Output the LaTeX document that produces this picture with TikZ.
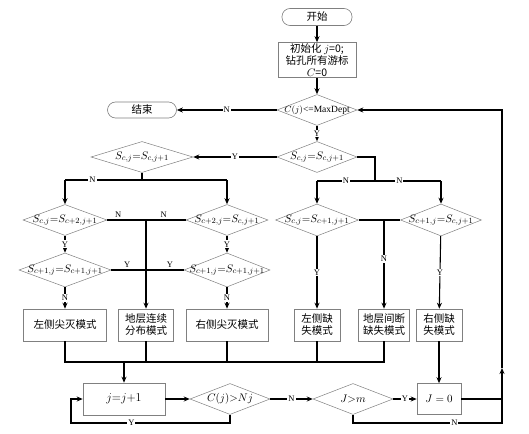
\documentclass[tikz,border=0pt]{standalone}
\usepackage{fontspec}
\setmainfont{Liberation Serif}
\newfontfamily\cjk{Noto Sans CJK SC}
\usepackage{tikz}
\usetikzlibrary{shapes.geometric, arrows.meta}
\newcommand{\cjkfont}{\cjk\fontsize{10.5}{12}\selectfont}
\newcommand{\dtext}[1]{\makebox[0pt]{#1}}
\tikzstyle{term} = [rectangle, rounded corners=8pt, draw=gray, line width=0.6pt, fill=white, minimum width=70pt, minimum height=17pt, inner sep=1pt, font=\cjkfont]
\tikzstyle{proc} = [rectangle, draw=gray, line width=0.6pt, fill=white, minimum height=32pt, inner sep=1pt, align=center, font=\cjkfont]
\tikzstyle{dec} = [diamond, draw=gray, line width=0.5pt, fill=white, minimum width=80pt, minimum height=31pt, inner sep=0pt, font=\fontsize{11}{12}\selectfont]
\tikzstyle{arrow} = [line width=1.1pt, -{Stealth[length=6pt, width=5pt]}]
\tikzstyle{line} = [line width=1.1pt]
\tikzstyle{lab} = [fill=white, inner sep=1pt, font=\fontsize{8.5}{9}\selectfont]
\tikzstyle{labup} = [above, inner sep=1.5pt, font=\fontsize{8.5}{9}\selectfont]

\begin{document}
\begin{tikzpicture}[x=1pt, y=-1pt, node distance=43pt]
	\useasboundingbox (0,0) rectangle (529,433);
	% top column
	\node (start) [term] at (317,17) {开始};
	\node (init) [proc, below of=start, minimum width=78pt, minimum height=35pt] {{\cjk 初始化} $j$=0;\\{\cjk 钻孔所有游标}\\$C$=0};
	\node (cond1) [dec, below of=init, node distance=50pt, minimum width=80pt, font=\fontsize{9.5}{10}\selectfont] {\dtext{$C(j)$<=MaxDept}};
	\node (stop) [term, minimum width=69pt, minimum height=16pt] at (142,110) {结束};
	\node (cond2) [dec, below of=cond1, node distance=47pt] {\dtext{$S_{c,j}{=}S_{c,j+1}$}};
	\node (condL) [dec, minimum width=102pt] at (142,157) {\dtext{$S_{c,j}{=}S_{c,j+1}$}};
	% left branch
	\node (dLL) [dec, minimum width=84pt] at (65,220) {\dtext{$S_{c,j}{=}S_{c+2,j+1}$}};
	\node (dLR) [dec, minimum width=82pt] at (227,220) {\dtext{$S_{c+2,j}{=}S_{c,j+1}$}};
	\node (dLL2) [dec, minimum width=92pt, minimum height=34pt] at (65,270) {\dtext{$S_{c+1,j}{=}S_{c+1,j+1}$}};
	\node (dLR2) [dec, minimum width=86pt, minimum height=34pt] at (227,270) {\dtext{$S_{c+1,j}{=}S_{c+1,j+1}$}};
	% right branch
	\node (dM) [dec, minimum width=83pt, minimum height=32pt] at (317,220) {\dtext{$S_{c,j}{=}S_{c+1,j+1}$}};
	\node (dR) [dec, minimum width=81pt, minimum height=32pt] at (441,220) {\dtext{$S_{c+1,j}{=}S_{c,j+1}$}};
	% pattern boxes
	\node (bLL) [proc, minimum width=83pt] at (65,325) {左侧尖灭模式};
	\node (bLM) [proc, minimum width=55pt] at (146,325) {地层连续\\分布模式};
	\node (bLR) [proc, minimum width=82pt] at (227,325) {右侧尖灭模式};
	\node (bM) [proc, minimum width=46pt] at (317,325) {左侧缺\\失模式};
	\node (bMR) [proc, minimum width=51pt] at (384,325) {地层间断\\缺失模式};
	\node (bR) [proc, minimum width=46pt] at (439,325) {右侧缺\\失模式};
	% bottom row
	\node (inc) [proc, minimum width=82pt, font=\fontsize{12}{12}\selectfont] at (124,399) {$j{=}j{+}1$};
	\node (cNj) [dec] at (230,399) {\dtext{$C(j){>}Nj$}};
	\node (cJm) [dec] at (353,399) {\dtext{$J{>}m$}};
	\node (reset) [proc, minimum width=44pt, minimum height=31pt, font=\fontsize{11}{12}\selectfont] at (439,399) {$J=0$};

	\coordinate (sL) at (142,180);
	\coordinate (sLL) at (65,180);
	\coordinate (sLR) at (227,180);
	\coordinate (sM) at (317,181);
	\coordinate (sR) at (375,181);
	\coordinate (sRR) at (441,181);
	\coordinate (mL) at (146,220);
	\coordinate (mR) at (384,220);
	\coordinate (cL) at (65,362);
	\coordinate (cR) at (384,362);
	\coordinate (yl) at (71,423);
	\coordinate (rb) at (502,423);
	\coordinate (rm) at (502,368);
	\coordinate (rt) at (502,110);

	\draw [arrow] (start) -- (init);
	\draw [arrow] (init) -- (cond1);
	\draw [arrow] (cond1) -- node [lab] {N} (stop);
	\draw [arrow] (cond1) -- node [lab] {Y} (cond2);
	\draw [arrow] (cond2) -- node [lab] {Y} (condL);
	\draw [line] (cond2.east) -| (sR);
	\draw [line] (sM) -- node [lab] {N} (sR) -- node [lab, pos=0.37] {N} (sRR);
	\draw [arrow] (sM) -- (dM);
	\draw [arrow] (sRR) -- (dR);
	\draw [line] (condL) -- (sL);
	\draw [line] (sLL) -- node [lab, pos=0.17] {N} (sLR);
	\draw [arrow] (sLL) -- (dLL);
	\draw [arrow] (sLR) -- (dLR);
	\draw [line] (dLL) -- node [labup, pos=0.14] {N} node [labup, pos=0.72] {N} (dLR);
	\draw [arrow] (mL) -- (bLM);
	\draw [arrow] (dLL) -- node [lab] {Y} (dLL2);
	\draw [arrow] (dLR) -- node [lab] {Y} (dLR2);
	\draw [line] (dLL2) -- node [labup, pos=0.22] {Y} node [labup, pos=0.81] {Y} (dLR2);
	\draw [arrow] (dLL2) -- node [lab] {N} (bLL);
	\draw [arrow] (dLR2) -- node [lab] {N} (bLR);
	\draw [line] (dM) -- (dR);
	\draw [arrow] (mR) -- node [lab, pos=0.44] {N} (bMR);
	\draw [arrow] (dM) -- node [lab] {Y} (bM);
	\draw [arrow] (dR) -- node [lab] {Y} (bR);
	% collect the patterns
	\draw [line] (bLL) -- (cL) -- (cR) -- (bMR);
	\draw [line] (bLM) -- (bLM |- cL);
	\draw [line] (bLR) -- (bLR |- cL);
	\draw [line] (bM) -- (bM |- cL);
	\draw [arrow] (inc |- cL) -- (inc);
	\draw [arrow] (bR) -- (reset);
	% bottom loop
	\draw [arrow] (inc) -- (cNj);
	\draw [arrow] (cNj) -- node [lab] {N} (cJm);
	\draw [arrow] (cJm) -- node [lab] {Y} (reset);
	\draw [arrow] (cNj.south) |- node [lab, pos=0.81] {Y} (yl) |- (inc.west);
	\draw [arrow] (cJm.south) |- node [lab, pos=0.84] {N} (rb) -- (rm);
	\draw [arrow] (rm) -- (rt) -- (cond1.east);
	\draw [line] (reset) -- (reset -| rb);
\end{tikzpicture}
\end{document}
